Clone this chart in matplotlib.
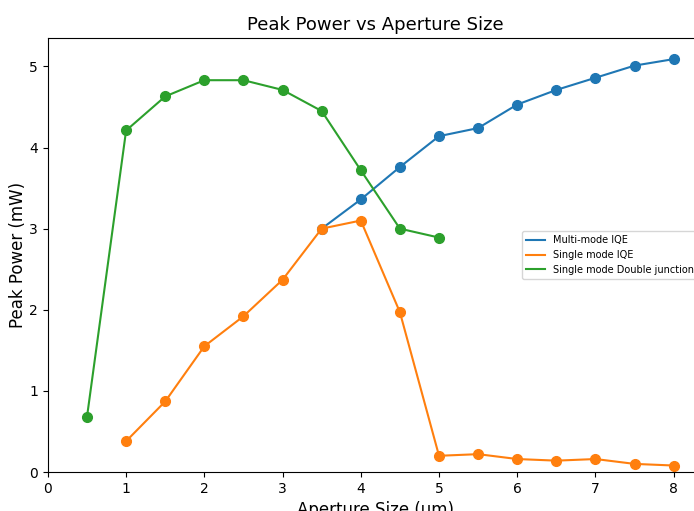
import matplotlib.pyplot as plt

# aperture sizes (um) and measured peak power (mW)
x_multi = [3.5, 4, 4.5, 5, 5.5, 6, 6.5, 7, 7.5, 8]
p_multi = [3.00, 3.36, 3.76, 4.14, 4.24, 4.53, 4.71, 4.86, 5.01, 5.09]

x_single = [1, 1.5, 2, 2.5, 3, 3.5, 4, 4.5, 5, 5.5, 6, 6.5, 7, 7.5, 8]
p_single = [0.38, 0.87, 1.55, 1.92, 2.37, 3.00, 3.10, 1.97, 0.20, 0.22,
            0.16, 0.14, 0.16, 0.10, 0.08]

x_dj = [0.5, 1, 1.5, 2, 2.5, 3, 3.5, 4, 4.5, 5]
p_dj = [0.68, 4.21, 4.63, 4.83, 4.83, 4.71, 4.45, 3.72, 3.00, 2.89]

series = [
    (x_multi, p_multi, 'Multi-mode IQE', 'tab:blue'),
    (x_single, p_single, 'Single mode IQE', 'tab:orange'),
    (x_dj, p_dj, 'Single mode Double junction', 'tab:green'),
]

fig = plt.figure(figsize=(6.94, 5.11), dpi=100)
ax = fig.add_axes([0.069, 0.0763, 0.944, 0.8493])

# lines carry the legend entries, dots drawn on top without labels
for xs, ys, name, c in series:
    ax.plot(xs, ys, color=c, label=name)
    ax.plot(xs, ys, 'o', color=c, markersize=7)

ax.set_xlim(0, 8.375)
ax.set_ylim(0, 5.35)
ax.set_title('Peak Power vs Aperture Size', fontsize=13)
ax.set_xlabel('Aperture Size (um)', fontsize=12)
ax.set_ylabel('Peak Power (mW)', fontsize=12, labelpad=2)
ax.legend(loc='center right', fontsize=7)

fig.savefig('out.png', dpi=100)
